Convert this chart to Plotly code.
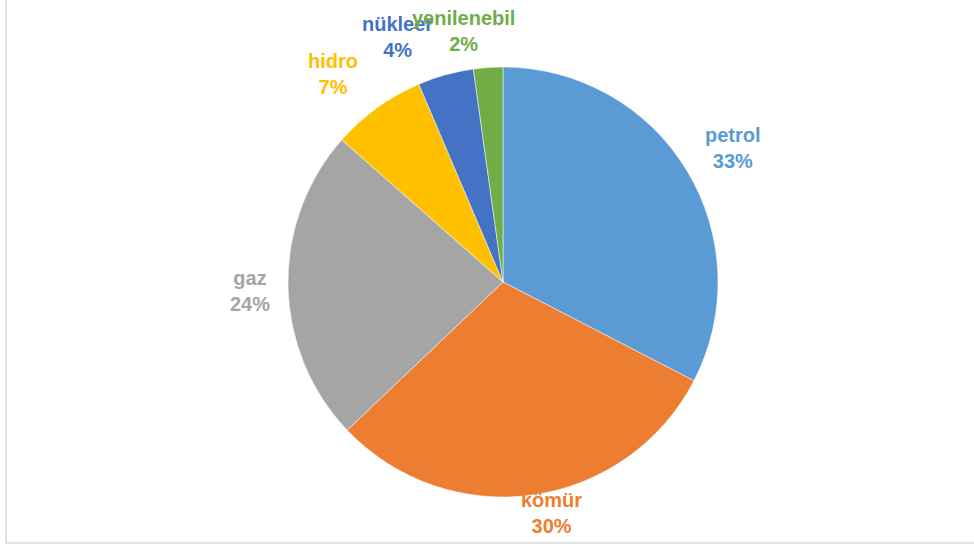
import plotly.graph_objects as go

# energy mix shares (%)
sources = ["petrol", "kömür", "gaz", "hidro", "nükleer", "yenilenebil"]
shares = [32.6, 30.3, 23.6, 7.1, 4.2, 2.2]
colors = ["#5B9BD5", "#ED7D31", "#A5A5A5", "#FFC000", "#4472C4", "#70AD47"]

W, H = 974, 546
CX, CY, R = 503, 282, 215
# label centres in pixels (Excel-style outside labels)
label_xy = [(733, 148), (551, 513), (250, 291), (333, 74), (397, 37), (463, 31)]

fig = go.Figure()
fig.add_trace(
    go.Pie(
        labels=sources,
        values=shares,
        sort=False,
        direction="clockwise",
        rotation=0,
        marker=dict(colors=colors, line=dict(color="white", width=0.5)),
        textinfo="none",
        hoverinfo="label+percent",
        showlegend=False,
        domain=dict(x=[(CX - R) / W, (CX + R) / W], y=[(H - CY - R) / H, (H - CY + R) / H]),
    )
)

total = sum(shares)
for name, v, c, (lx, ly) in zip(sources, shares, colors, label_xy):
    fig.add_annotation(
        x=lx / W,
        y=1 - ly / H,
        xref="paper",
        yref="paper",
        text=f"<b>{name}<br>{round(100 * v / total)}%</b>",
        showarrow=False,
        font=dict(family="Liberation Sans", size=20, color=c),
        xanchor="center",
        yanchor="middle",
        align="center",
    )

# thin chart-area border (left and bottom visible)
fig.add_shape(type="line", xref="paper", yref="paper", x0=6 / W, x1=6 / W, y0=1, y1=3 / H,
              line=dict(color="#D9D9D9", width=1.5))
fig.add_shape(type="line", xref="paper", yref="paper", x0=6 / W, x1=1, y0=3 / H, y1=3 / H,
              line=dict(color="#D9D9D9", width=1.5))

fig.update_layout(
    width=W,
    height=H,
    margin=dict(l=0, r=0, t=0, b=0),
    paper_bgcolor="white",
    plot_bgcolor="white",
)
fig.write_html(
    "out.html",
    config={"displayModeBar": False},
    post_script="document.body.style.margin='0';document.body.style.overflow='hidden';",
)
